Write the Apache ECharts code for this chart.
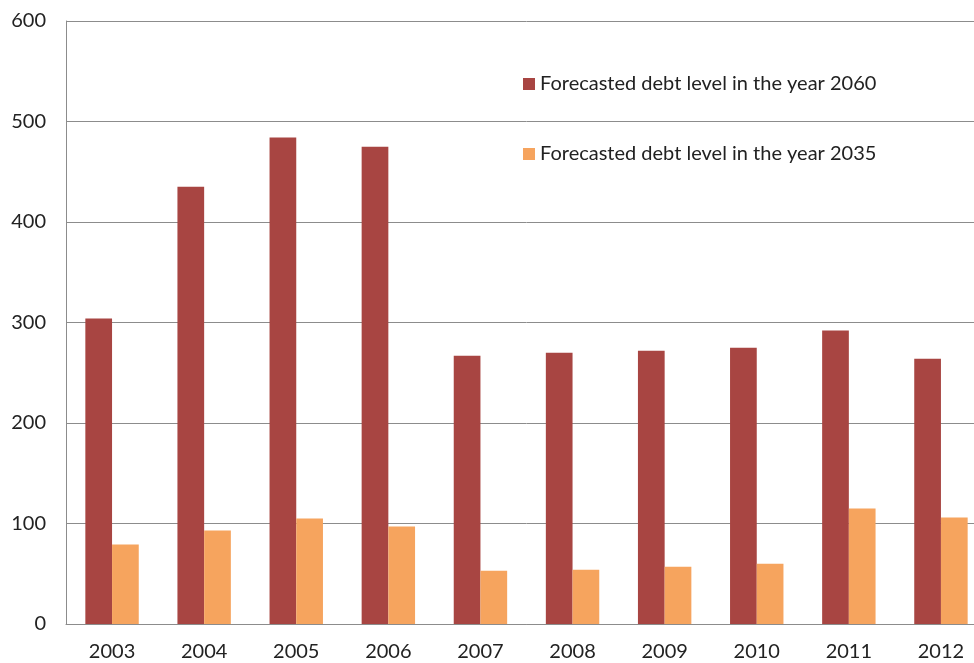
<!DOCTYPE html>
<html>
<head>
<meta charset="utf-8">
<script src="https://cdn.jsdelivr.net/npm/echarts@6/dist/echarts.min.js"></script>
<style>
  html, body { margin: 0; padding: 0; background: #fff; overflow: hidden; }
  /* canvas is a bit wider than the window so the plot area runs off the right edge */
  #chart { width: 987px; height: 663px; }
</style>
</head>
<body>
<div id="chart"></div>
<script>
// Forecasted debt levels by forecast vintage year
const years = ['2003', '2004', '2005', '2006', '2007', '2008', '2009', '2010', '2011', '2012'];
const debt2060 = [304, 435, 484, 475, 267, 270, 272, 275, 292, 264];
const debt2035 = [79, 93, 105, 97, 53, 54, 57, 60, 115, 106];
const yTicks = [0, 100, 200, 300, 400, 500, 600];

const FONT = 'Lato';
const chart = echarts.init(document.getElementById('chart'));
chart.setOption({
  animation: false,
  backgroundColor: '#ffffff',
  grid: { left: 66, right: 0, top: 21, bottom: 39, containLabel: false },
  legend: {
    orient: 'vertical',
    left: 518,
    top: 69,
    itemWidth: 12,
    itemHeight: 12,
    itemGap: 50,
    icon: 'rect',
    textStyle: { fontFamily: FONT, fontSize: 20, color: '#222' },
    data: ['Forecasted debt level in the year 2060', 'Forecasted debt level in the year 2035']
  },
  xAxis: {
    type: 'category',
    data: years,
    axisLine: { lineStyle: { color: '#8c8c8c', width: 1 } },
    axisTick: { show: false },
    axisLabel: { fontFamily: FONT, fontSize: 20, color: '#222', margin: 18 }
  },
  yAxis: {
    type: 'value',
    min: yTicks[0],
    max: yTicks[yTicks.length - 1],
    interval: 100,
    axisLine: { show: true, lineStyle: { color: '#8c8c8c', width: 1 } },
    axisTick: { show: false },
    splitLine: { lineStyle: { color: '#8c8c8c', width: 1 } },
    axisLabel: { fontFamily: FONT, fontSize: 20, color: '#222', margin: 20 }
  },
  series: [
    {
      name: 'Forecasted debt level in the year 2060',
      type: 'bar',
      data: debt2060,
      barGap: '0%',
      barCategoryGap: '42%',
      itemStyle: { color: '#A84542' }
    },
    {
      name: 'Forecasted debt level in the year 2035',
      type: 'bar',
      data: debt2035,
      itemStyle: { color: '#F6A45E' }
    }
  ]
});
</script>
</body>
</html>
